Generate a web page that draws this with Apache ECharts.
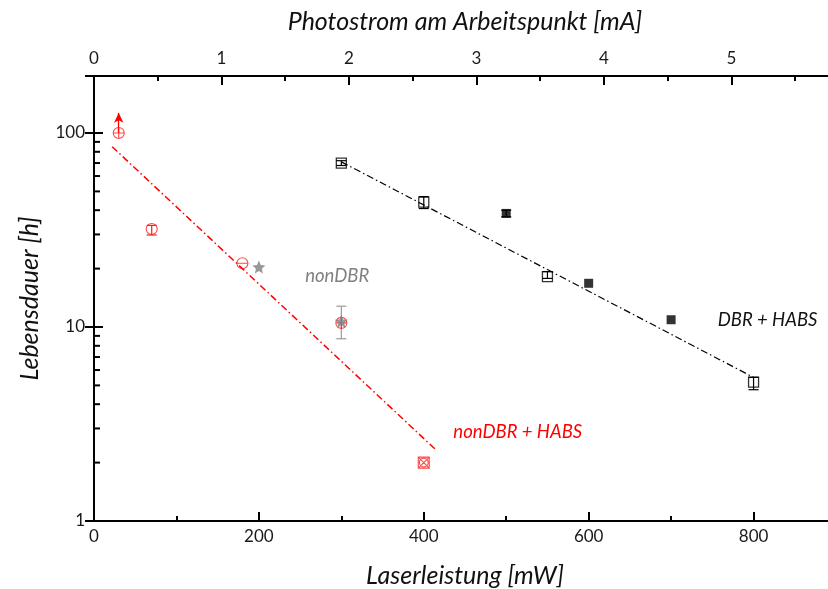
<!DOCTYPE html>
<html>
<head>
<meta charset="utf-8">
<script src="https://cdn.jsdelivr.net/npm/echarts@6/dist/echarts.min.js"></script>
<style>
  html, body { margin: 0; padding: 0; background: #fff; }
  #chart { width: 828px; height: 589px; }
</style>
</head>
<body>
<div id="chart"></div>
<script>
// nonDBR + HABS (red circles)
var redPower = [30, 70, 180, 300, 400];
var redLife = [100, 32, 21.3, 10.5, 2];
var redFitPower = [22, 416];
var redFitLife = [85, 2.3];
var redErrPower = [70];
var redErrLow = [29.8];
var redErrHigh = [33.4];
var arrowPower = 30;
var arrowFrom = 100;
var arrowTo = 127;

// nonDBR (grey stars)
var starPower = [200, 300];
var starLife = [20.4, 10.7];
var greyErrPower = [300];
var greyErrLow = [8.7];
var greyErrHigh = [12.8];

// DBR + HABS (black squares)
var openPower = [300, 400, 550, 800];
var openLife = [70, 44, 18.2, 5.2];
var filledPower = [500, 600, 700];
var filledLife = [38.5, 16.8, 10.9];
var blackFitPower = [300, 800];
var blackFitLife = [71, 5.5];
var blackErrPower = [300, 400, 500, 550, 800];
var blackErrLow = [68, 40.8, 37, 17.8, 4.75];
var blackErrHigh = [72, 47, 40, 19.3, 5.5];

// minor ticks on the log axis
var minorLife = [2, 3, 4, 5, 6, 7, 8, 9, 20, 30, 40, 50, 60, 70, 80, 90];

// annotations
var labelTexts = ['nonDBR', 'nonDBR + HABS', 'DBR + HABS'];
var labelPower = [295, 514, 817];
var labelLife = [18.3, 2.88, 10.87];

var FONT = 'Lato';
var RED = '#ff1a1a';

var crossCircle = 'path://M0,10A10,10,0,1,1,20,10A10,10,0,1,1,0,10ZM0,10L20,10M10,0L10,20';
var minusCircle = 'path://M0,10A10,10,0,1,1,20,10A10,10,0,1,1,0,10ZM0,10L20,10';
var xBox = 'path://M0,0L20,0L20,20L0,20ZM0,0L20,20M20,0L0,20M2,10A8,8,0,1,1,18,10A8,8,0,1,1,2,10Z';
var star = 'path://M10,0L12.9,6.9L20,7.6L14.6,12.3L16.2,19.5L10,15.8L3.8,19.5L5.4,12.3L0,7.6L7.1,6.9Z';
var redSymbols = [crossCircle, 'circle', minusCircle, crossCircle, xBox];

function zip(a, b) {
  return a.map(function (v, i) { return [v, b[i]]; });
}

function errorBars(xs, lo, hi, color) {
  return {
    type: 'custom',
    data: xs.map(function (x, i) { return [x, lo[i], hi[i]]; }),
    renderItem: function (params, api) {
      var top = api.coord([api.value(0), api.value(2)]);
      var bot = api.coord([api.value(0), api.value(1)]);
      var w = 5;
      var st = { stroke: color, lineWidth: 1.2 };
      return {
        type: 'group',
        children: [
          { type: 'line', shape: { x1: top[0], y1: top[1], x2: bot[0], y2: bot[1] }, style: st },
          { type: 'line', shape: { x1: top[0] - w, y1: top[1], x2: top[0] + w, y2: top[1] }, style: st },
          { type: 'line', shape: { x1: bot[0] - w, y1: bot[1], x2: bot[0] + w, y2: bot[1] }, style: st }
        ]
      };
    },
    z: 3
  };
}

var axisLine = { show: true, lineStyle: { color: '#000', width: 2 } };
var labelStyle = { fontFamily: FONT, fontSize: 17, color: '#1a1a1a' };
var nameStyle = { fontFamily: FONT, fontSize: 25, fontStyle: 'italic', color: '#111' };

var chart = echarts.init(document.getElementById('chart'));

// the plot frame runs a little past the right edge of the picture (up to 900 mW)
var option = {
  animation: false,
  backgroundColor: '#fff',
  grid: { left: 94, top: 76, width: 742, height: 445, containLabel: false, outerBoundsMode: 'none' },
  xAxis: [{
    type: 'value', position: 'bottom', min: 0, max: 900, interval: 200,
    name: 'Laserleistung [mW]', nameLocation: 'middle', nameGap: 42, nameTextStyle: nameStyle,
    axisLine: axisLine,
    axisTick: { inside: true, length: 9, lineStyle: { width: 2, color: '#000' } },
    axisLabel: Object.assign({ margin: 7, showMaxLabel: false }, labelStyle),
    splitLine: { show: false }
  }, {
    type: 'value', position: 'bottom', min: 0, max: 900, interval: 100,
    axisLine: { show: false },
    axisTick: { inside: true, length: 5, lineStyle: { width: 2, color: '#000' } },
    axisLabel: { show: false },
    splitLine: { show: false }
  }, {
    type: 'value', position: 'top', min: 0, max: 5.82, interval: 1,
    name: 'Photostrom am Arbeitspunkt [mA]', nameLocation: 'middle', nameGap: 42, nameTextStyle: nameStyle,
    axisLine: axisLine,
    axisTick: { inside: true, length: 9, lineStyle: { width: 2, color: '#000' } },
    axisLabel: Object.assign({ margin: 9, showMaxLabel: false }, labelStyle),
    splitLine: { show: false }
  }, {
    type: 'value', position: 'top', min: 0, max: 5.82, interval: 0.5,
    axisLine: { show: false },
    axisTick: { inside: true, length: 5, lineStyle: { width: 2, color: '#000' } },
    axisLabel: { show: false },
    splitLine: { show: false }
  }],
  yAxis: [{
    type: 'log', logBase: 10, position: 'left', min: 1, max: 196.7,
    name: 'Lebensdauer [h]', nameLocation: 'middle', nameGap: 52, nameRotate: 90, nameTextStyle: nameStyle,
    axisLine: axisLine,
    axisTick: { inside: true, length: 9, lineStyle: { width: 2, color: '#000' } },
    axisLabel: Object.assign({ margin: 9, showMaxLabel: false }, labelStyle),
    splitLine: { show: false }
  }, {
    type: 'log', logBase: 10, position: 'right', min: 1, max: 196.7,
    axisLine: axisLine,
    axisTick: { inside: true, length: 9, lineStyle: { width: 2, color: '#000' } },
    axisLabel: { show: false },
    splitLine: { show: false }
  }],
  series: [
    {
      type: 'custom',
      data: minorLife.map(function (v) { return [0, v]; }),
      renderItem: function (params, api) {
        var p = api.coord([api.value(0), api.value(1)]);
        return { type: 'line', shape: { x1: p[0], y1: p[1], x2: p[0] + 6, y2: p[1] },
          style: { stroke: '#000', lineWidth: 2 } };
      },
      silent: true
    },
    {
      type: 'line', data: zip(redFitPower, redFitLife), symbol: 'none',
      lineStyle: { color: '#ff0000', width: 1.5, type: [7, 3, 1.5, 3] }, z: 2
    },
    {
      type: 'line', data: zip(blackFitPower, blackFitLife), symbol: 'none',
      lineStyle: { color: '#000', width: 1.2, type: [7, 3, 1.5, 3] }, z: 2
    },
    errorBars(redErrPower, redErrLow, redErrHigh, RED),
    errorBars(greyErrPower, greyErrLow, greyErrHigh, '#9a9a9a'),
    errorBars(blackErrPower, blackErrLow, blackErrHigh, '#000'),
    {
      type: 'scatter',
      data: zip(redPower, redLife).map(function (d, i) {
        return { value: d, symbol: redSymbols[i] };
      }),
      symbolSize: 11,
      itemStyle: { color: 'rgba(255,255,255,0)', borderColor: RED, borderWidth: 1.1 },
      markLine: {
        silent: true,
        symbol: ['none', 'arrow'],
        symbolSize: [7, 10],
        label: { show: false },
        lineStyle: { color: '#ff0000', width: 1.3, type: 'solid' },
        data: [[{ coord: [arrowPower, arrowFrom] }, { coord: [arrowPower, arrowTo] }]]
      },
      z: 4
    },
    {
      type: 'scatter', data: zip(starPower, starLife), symbol: star, symbolSize: 13,
      itemStyle: { color: '#808080' }, z: 5
    },
    {
      type: 'scatter', data: zip(openPower, openLife), symbol: 'rect', symbolSize: 10,
      itemStyle: { color: 'rgba(255,255,255,0)', borderColor: '#000', borderWidth: 1.3 }, z: 4
    },
    {
      type: 'scatter', data: zip(filledPower, filledLife), symbol: 'rect', symbolSize: 9,
      itemStyle: { color: '#000' }, z: 4
    },
    {
      type: 'custom',
      data: labelTexts.map(function (t, i) { return [labelPower[i], labelLife[i], i]; }),
      renderItem: function (params, api) {
        var p = api.coord([api.value(0), api.value(1)]);
        var i = api.value(2);
        var colors = ['#808080', '#ff0000', '#111'];
        return {
          type: 'text', x: p[0], y: p[1],
          style: { text: labelTexts[i], fill: colors[i], font: 'italic 18.5px ' + FONT,
            align: 'center', verticalAlign: 'middle' }
        };
      },
      silent: true, z: 6
    }
  ]
};

chart.setOption(option);
</script>
</body>
</html>
